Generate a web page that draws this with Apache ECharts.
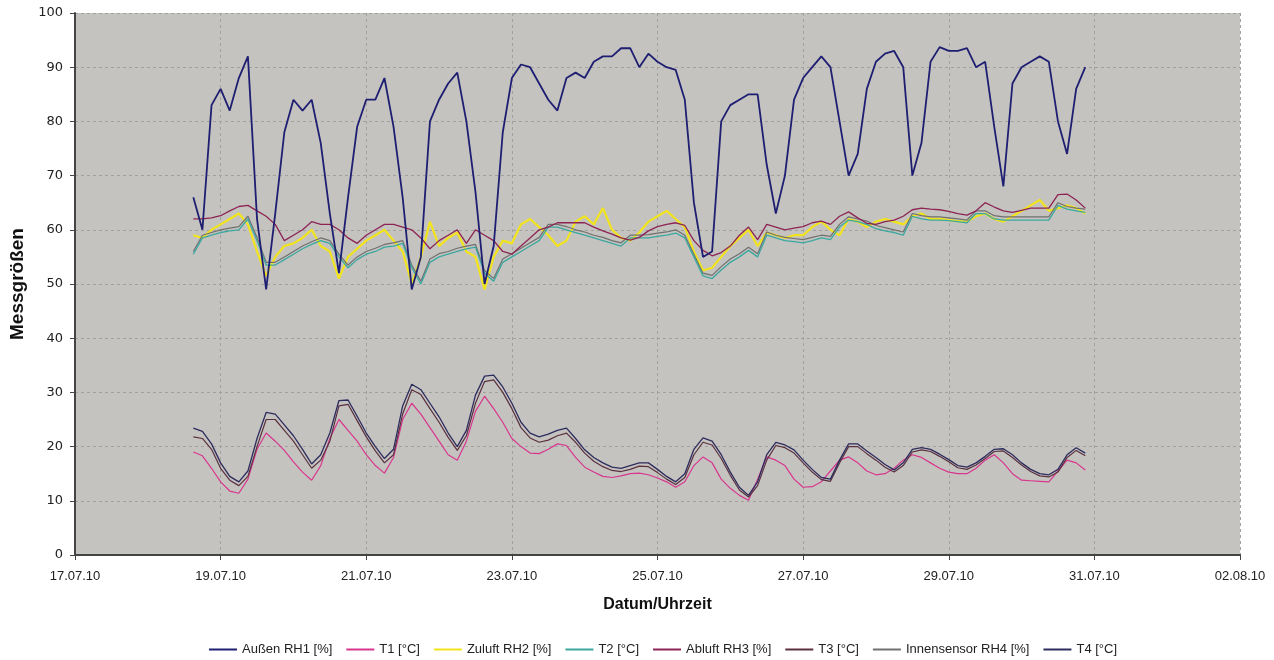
<!DOCTYPE html>
<html>
<head>
<meta charset="utf-8">
<script src="https://cdn.jsdelivr.net/npm/echarts@6/dist/echarts.min.js"></script>
<style>
html,body{margin:0;padding:0;background:#ffffff;}
#chart{width:1274px;height:660px;}
</style>
</head>
<body>
<div id="chart"></div>
<script>
// Time grid: first sample 18.07.10 15:00, one sample every 3 hours (day offsets from 17.07.10 00:00)
const startDay = 1.625;
const stepDay = 0.125;

const xTickLabels = ['17.07.10','19.07.10','21.07.10','23.07.10','25.07.10','27.07.10','29.07.10','31.07.10','02.08.10'];

const aussenRH1 = [66,60,83,86,82,88,92,62,49,63,
78,84,82,84,76,63,52,66,79,84,
84,88,79,66,49,55,80,84,87,89,
80,67,50,57,78,88,90.5,90,87,84,
82,88,89,88,91,92,92,93.5,93.5,90,
92.5,91,90,89.5,84,65,55,56,80,83,
84,85,85,72,63,70,84,88,90,92,
90,80,70,74,86,91,92.5,93,90,70,
76,91,93.7,93,93,93.5,90,91,79,68,
87,90,91,92,91,80,74,86,90];

const t1 = [19,18.3,16,13.5,11.8,11.4,14,19.5,22.5,21,
19.3,17.2,15.3,13.8,16.5,21.5,25,23,21,18.5,
16.5,15.1,18,25,28,26,23.5,21,18.5,17.5,
21,26.5,29.3,27,24.5,21.5,20,18.8,18.7,19.5,
20.5,20.2,18,16.2,15.3,14.5,14.3,14.6,15,15.1,
14.8,14.2,13.5,12.5,13.5,16.5,18.1,17,14,12.3,
11,10.1,14,18.1,17.5,16.5,14,12.5,12.6,13.5,
15.5,17.5,18.1,17,15.5,14.8,15,16,17.5,18.5,
18,17,16,15.3,15,15,16,17.5,18.5,17,
15,13.8,13.7,13.6,13.5,15.5,17.5,17,15.7];

const zuluftRH2 = [59,58.5,60,61,62,63,61,56,51.5,55,
57,57.5,58.5,60,57,56,51,55,56.5,58,
59,60,58,56,50,55,61.5,57,58.5,59.5,
56,55,49,55,58,57.5,61,62,60.5,59,
57,58,61.5,62.5,61,64,60,58.5,58,59.5,
61.5,62.5,63.5,62,60.5,56,52.5,53,55,57,
58.5,60,57,59.5,59,58.5,59,59,60.5,61.5,
60,59,62,61.5,60.5,61.5,62,61.5,61,62.5,
63,62,62,61.8,61.6,61.5,62.5,63,62,61.5,
62.5,63.5,64.5,65.5,63.5,64,64.5,64,63];

const t2 = [55.5,58.5,59,59.5,59.8,60,62,58,53.5,53.5,
54.5,55.5,56.5,57.3,58,57.5,55,53,54.5,55.5,
56,56.8,57,57.5,53,50,54,55,55.5,56,
56.5,56.8,52,50.5,54,55,56,57,58,60.5,
60.5,60,59.5,59,58.5,58,57.5,57,58.5,58.5,
58.5,58.8,59,59.4,58.5,55,51.5,51,52.6,54,
55,56.2,55,59,58.5,58,57.8,57.6,58,58.5,
58.2,60.5,61.8,61.5,61,60.2,59.8,59.5,59,62.5,
62,61.8,61.8,61.7,61.5,61.3,63,63,62,61.8,
61.8,61.8,61.8,61.8,61.8,64.5,63.8,63.5,63.2];

const abluftRH3 = [62,62,62.2,62.6,63.5,64.3,64.5,63.5,62.5,61,
58,59,60,61.5,61,61,60,58.5,57.5,59,
60,61,61,60.5,60,58.5,56.5,58,59,60,
57.5,60,59,58,56,55.5,57,58.5,60,60.5,
61.3,61.3,61.3,61.3,60.5,59.8,59.2,58.5,58.1,58.6,
59.8,60.6,61,61.3,60.8,58,56.2,55.2,55.8,57,
59,60.5,58.2,61,60.5,60,60.3,60.6,61.3,61.6,
61,62.5,63.3,62.2,61.2,61,61.5,61.8,62.5,63.7,
64,63.8,63.7,63.4,63,62.7,63.5,65,64.2,63.5,
63.2,63.6,64,64,64,66.5,66.6,65.5,64];

const t3 = [21.8,21.5,19.5,16,13.8,12.8,14.5,20,25,25,
23,21,18.5,16,17.5,21,27.5,27.8,24.8,21.8,
19.2,17,18.5,26,30.5,29.6,27,24.5,21.7,19.3,
22,28,32,32.3,30,27,23.5,21.6,20.8,21.2,
22,22.5,20.8,18.8,17.3,16.3,15.6,15.4,15.8,16.4,
16.3,15.2,14,13,14.3,18.5,20.8,20.3,17.8,14.7,
12,10.7,12.8,17.5,20.2,19.8,18.8,17,15.3,13.9,
13.6,17,20,20,18.7,17.5,16.2,15.3,16.5,19,
19.4,19.1,18.2,17.2,16.1,15.8,16.6,17.8,19.1,19.2,
18,16.6,15.4,14.6,14.4,15.3,18,19.3,18.3];

const innenRH4 = [56,59,59.5,60,60.3,60.6,62.5,58.6,54,54,
55,56,57,57.8,58.5,58,55.5,53.5,55,56,
56.6,57.3,57.6,58,53.5,50.5,54.6,55.6,56,56.6,
57,57.3,52.5,51,54.6,55.6,56.6,57.6,58.6,61,
61,60.6,60,59.6,59,58.6,58,57.6,59,59,
59.1,59.4,59.6,60,59,55.5,52,51.6,53.2,54.6,
55.6,56.8,55.6,59.6,59,58.6,58.4,58.2,58.6,59,
58.8,61,62.4,62,61.6,60.8,60.4,60,59.6,63,
62.6,62.4,62.4,62.2,62,61.8,63.5,63.5,62.6,62.4,
62.4,62.4,62.4,62.4,62.4,65,64.3,64,63.8];

const t4 = [23.4,22.8,20.5,17,14.5,13.5,15.5,21.5,26.3,26,
24,22,19.5,16.8,18.5,22.5,28.5,28.6,25.6,22.5,
20,17.8,19.5,27.5,31.5,30.5,28,25.5,22.5,20,
23,29.5,33,33.2,31,28,24.5,22.5,21.8,22.3,
23,23.4,21.5,19.4,18,17,16.2,16,16.5,17,
17,15.8,14.5,13.5,15,19.5,21.6,21,18.5,15.3,
12.5,11,13.5,18.5,20.8,20.3,19.4,17.5,15.8,14.3,
14,17.5,20.5,20.5,19.2,18,16.7,15.7,17,19.5,
19.8,19.5,18.6,17.6,16.5,16.2,17,18.2,19.5,19.6,
18.5,17,15.8,15,14.8,15.8,18.5,19.8,18.8];

const seriesDefs = [
  {name:'Außen RH1 [%]', data:aussenRH1, color:'#1e1e72', width:1.8, z:10},
  {name:'T1 [°C]', data:t1, color:'#d8368e', width:1.2, z:5},
  {name:'Zuluft RH2 [%]', data:zuluftRH2, color:'#f2e41c', width:2.2, z:3},
  {name:'T2 [°C]', data:t2, color:'#3aa8a0', width:1.3, z:5},
  {name:'Abluft RH3 [%]', data:abluftRH3, color:'#8c2454', width:1.3, z:6},
  {name:'T3 [°C]', data:t3, color:'#5a3040', width:1.2, z:6},
  {name:'Innensensor RH4 [%]', data:innenRH4, color:'#707070', width:1.2, z:4},
  {name:'T4 [°C]', data:t4, color:'#2c2c5e', width:1.3, z:7}
];

function toPairs(arr){
  return arr.map((v,i)=>[startDay + i*stepDay, v]);
}

const chart = echarts.init(document.getElementById('chart'), null, {renderer:'canvas'});
const option = {
  animation:false,
  backgroundColor:'#ffffff',
  grid:{left:75, right:34, top:13, bottom:105, show:true, backgroundColor:'#c5c3bf', borderWidth:0},
  legend:{
    left:204, top:638, itemWidth:28, itemHeight:2, itemGap:14, icon:'rect',
    textStyle:{fontFamily:'Liberation Sans, Arial, sans-serif', fontSize:13, color:'#222'},
    data:seriesDefs.map(s=>s.name)
  },
  xAxis:{
    type:'value', min:0, max:16, interval:2,
    name:'Datum/Uhrzeit', nameLocation:'middle', nameGap:42,
    nameTextStyle:{fontFamily:'Liberation Sans, Arial, sans-serif', fontSize:16, fontWeight:'bold', color:'#111'},
    axisLine:{show:true, onZero:false, lineStyle:{color:'#444', width:2}},
    axisTick:{show:true, length:5, lineStyle:{color:'#444'}},
    axisLabel:{fontFamily:'Liberation Sans, Arial, sans-serif', fontSize:13, color:'#222', margin:15,
      formatter:function(v){ return xTickLabels[Math.round(v/2)] || ''; }},
    splitLine:{show:true, lineStyle:{color:'#a3a19d', type:[3,3], width:1}}
  },
  yAxis:{
    type:'value', min:0, max:100, interval:10,
    name:'Messgrößen', nameLocation:'middle', nameGap:46, nameRotate:90,
    nameTextStyle:{fontFamily:'Liberation Sans, Arial, sans-serif', fontSize:19, fontWeight:'bold', color:'#111'},
    axisLine:{show:true, lineStyle:{color:'#444', width:2}},
    axisTick:{show:true, length:5, lineStyle:{color:'#444'}},
    axisLabel:{fontFamily:'DejaVu Sans, sans-serif', fontSize:13, color:'#222', margin:12},
    splitLine:{show:true, lineStyle:{color:'#a3a19d', type:[3,3], width:1}}
  },
  series:seriesDefs.map(s=>({
    name:s.name, type:'line', data:toPairs(s.data), showSymbol:false, symbol:'none',
    z:s.z, color:s.color,
    lineStyle:{color:s.color, width:s.width},
    itemStyle:{color:s.color}
  }))
};
chart.setOption(option);
</script>
</body>
</html>
